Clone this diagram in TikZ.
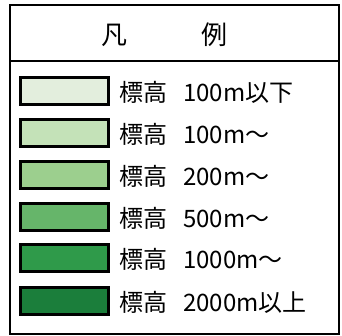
\documentclass[tikz,border=0pt]{standalone}
\usepackage{fontspec}
\newfontfamily\jp{Noto Sans CJK JP}
\definecolor{cA}{HTML}{E3EEDD}
\definecolor{cB}{HTML}{C4E2B8}
\definecolor{cC}{HTML}{9CCF8E}
\definecolor{cD}{HTML}{66B56A}
\definecolor{cE}{HTML}{2F9A4A}
\definecolor{cF}{HTML}{1B7E3B}
\begin{document}
\begin{tikzpicture}[x=1pt,y=-1pt,
  swatch/.style={draw=black,line width=3pt,minimum width=88pt,minimum height=27pt,inner sep=0pt,anchor=north west},
  lbl/.style={anchor=west,inner sep=0pt,font=\jp\fontsize{24}{26}\selectfont,text=black},
  hdr/.style={inner sep=0pt,font=\jp\fontsize{26}{28}\selectfont,text=black}]
\useasboundingbox (0,0) rectangle (342,336);
\draw[line width=2.5pt] (10,5) rectangle (339,334);
\draw[line width=2.5pt] (10,61) -- (339,61);
\node[hdr] (h1) at (114,35) {凡};
\node[hdr] (h2) at (214,35) {例};
\foreach \i/\t/\c/\lab in {1/76/cA/100m以下, 2/118/cB/100m〜, 3/160/cC/200m〜, 4/202/cD/500m〜, 5/243/cE/1000m〜, 6/286/cF/2000m以上}{
  \node[swatch,fill=\c] (s\i) at (19,\t) {};
  \node[lbl] (t\i) at ([xshift=9pt,yshift=-1.5pt]s\i.east) {標高\hspace{16pt}\lab};
}
\end{tikzpicture}
\end{document}
